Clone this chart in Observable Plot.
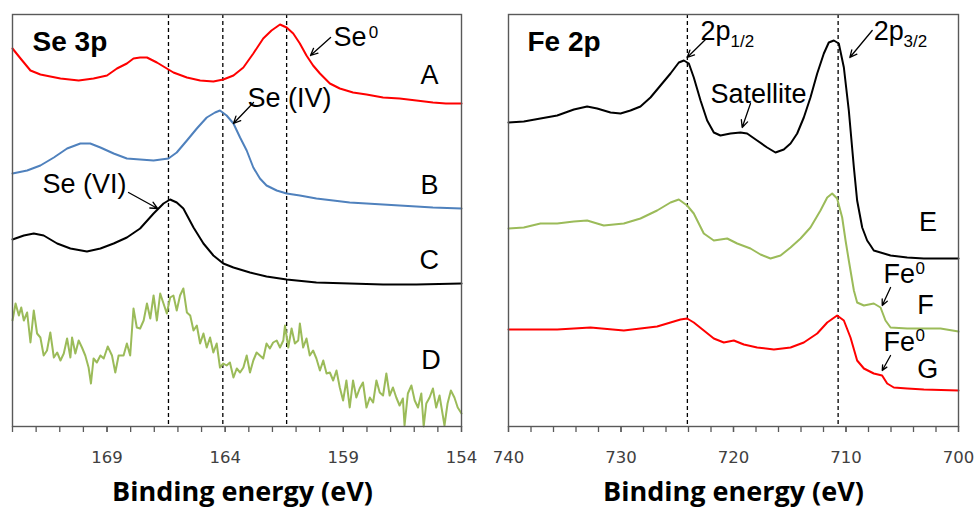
<!DOCTYPE html>
<html><head><meta charset="utf-8">
<script src="https://cdn.jsdelivr.net/npm/d3@7"></script>
<script src="https://cdn.jsdelivr.net/npm/@observablehq/plot@0.6"></script>
<style>
html,body{margin:0;padding:0;background:#fff;}
#wrap{display:flex;width:979px;height:512px;overflow:hidden;}
</style></head><body><div id="wrap"></div>
<script>
// ---- Se 3p spectra: [binding energy (eV), intensity (a.u.)] ----
const seA = [[173.00,378],[172.66,368],[172.24,356],[171.82,352],[171.40,350],[170.97,348],[170.20,346],[169.57,348],[169.00,351],[168.58,358],[168.16,363],[167.88,368],[167.60,369],[167.31,369],[166.89,364],[166.47,358],[166.19,354],[165.62,349],[165.06,346],[164.50,345],[164.08,347],[163.65,351],[163.23,359],[162.81,373],[162.39,388],[162.04,396],[161.68,402],[161.40,399],[161.12,393],[160.84,383],[160.56,371],[160.28,361],[159.99,353],[159.57,343],[159.15,338],[158.59,334],[158.02,332],[157.32,329],[156.62,328],[155.91,326],[155.21,324],[154.66,323],[154.00,323]];
const seB = [[173.00,253],[172.38,256],[171.82,261],[171.25,269],[170.69,278],[170.13,283],[169.71,283],[169.28,279],[168.72,273],[168.16,268],[167.60,267],[167.03,266],[166.40,268],[166.05,274],[165.62,286],[165.20,298],[164.78,309],[164.43,314],[164.22,316],[163.94,311],[163.65,303],[163.37,289],[163.09,276],[162.81,259],[162.53,248],[162.25,241],[161.82,236],[161.40,233],[160.84,231],[160.14,228],[159.43,226],[158.73,224],[158.02,223],[157.32,222],[156.62,221],[155.91,220],[155.21,219],[154.00,218]];
const seC = [[173.00,187],[172.52,191],[172.10,193],[171.68,191],[171.11,183],[170.55,178],[169.85,175],[169.28,178],[168.72,183],[168.16,189],[167.60,198],[167.03,213],[166.61,223],[166.33,227],[166.05,224],[165.77,218],[165.34,199],[164.92,183],[164.50,171],[164.08,163],[163.65,159],[162.95,154],[162.25,150],[161.40,147],[160.14,144],[158.73,143],[157.32,142],[155.91,142],[154.00,143]];
const seD = [[173.00,106],[172.87,123],[172.73,111],[172.63,119],[172.52,106],[172.38,114],[172.24,84],[172.10,116],[171.96,93],[171.82,89],[171.68,71],[171.54,76],[171.40,94],[171.25,69],[171.11,74],[170.97,66],[170.83,73],[170.69,88],[170.55,69],[170.48,89],[170.34,73],[170.20,86],[170.06,79],[169.92,71],[169.78,59],[169.68,43],[169.57,68],[169.43,64],[169.28,71],[169.14,68],[168.97,80],[168.79,71],[168.65,54],[168.51,71],[168.30,71],[168.16,83],[168.02,71],[167.88,118],[167.74,99],[167.60,98],[167.45,106],[167.31,123],[167.17,108],[167.03,131],[166.89,106],[166.75,133],[166.61,123],[166.47,113],[166.33,129],[166.19,131],[166.05,116],[165.91,131],[165.77,138],[165.62,114],[165.48,111],[165.34,96],[165.20,101],[165.06,83],[164.92,93],[164.78,79],[164.64,89],[164.50,74],[164.36,83],[164.22,59],[164.08,63],[163.94,61],[163.80,64],[163.65,49],[163.51,58],[163.37,54],[163.23,59],[163.09,71],[162.95,54],[162.81,66],[162.67,74],[162.53,71],[162.39,68],[162.25,83],[162.11,78],[161.97,84],[161.82,86],[161.68,79],[161.54,86],[161.47,101],[161.33,79],[161.19,98],[161.05,83],[160.91,86],[160.84,103],[160.70,79],[160.56,88],[160.42,71],[160.28,76],[160.14,68],[159.99,56],[159.85,66],[159.71,53],[159.57,54],[159.43,46],[159.29,56],[159.15,39],[159.01,26],[158.87,46],[158.73,19],[158.59,46],[158.45,29],[158.31,38],[158.17,44],[158.02,19],[157.88,29],[157.74,24],[157.60,46],[157.46,34],[157.32,31],[157.18,53],[157.04,31],[156.90,39],[156.76,29],[156.62,21],[156.48,28],[156.41,1],[156.27,33],[156.12,41],[155.98,26],[155.84,19],[155.70,33],[155.60,0],[155.49,23],[155.35,29],[155.21,38],[155.07,19],[154.93,31],[154.72,1],[154.59,23],[154.45,36],[154.30,29],[154.16,19],[154.00,13]];

// ---- Fe 2p spectra ----
const feE = [[740.00,304],[738.64,305],[737.16,308],[735.67,311],[734.19,317],[733.01,320],[732.12,318],[730.93,314],[730.04,313],[729.16,316],[728.27,320],[727.38,329],[726.49,341],[725.60,353],[724.86,364],[724.41,366],[723.97,363],[723.53,349],[722.93,326],[722.34,306],[721.75,294],[721.16,291],[720.27,293],[719.38,294],[718.79,293],[717.90,286],[717.01,279],[716.27,274],[715.53,277],[714.93,283],[714.34,293],[713.75,309],[713.16,329],[712.56,353],[711.97,373],[711.53,384],[711.08,386],[710.64,383],[710.19,359],[709.75,316],[709.30,259],[709.01,226],[708.56,199],[708.12,186],[707.82,181],[707.53,176],[706.04,171],[704.56,169],[703.08,168],[700.00,168]];
const feF = [[740.00,198],[738.64,199],[737.16,203],[735.67,203],[734.19,205],[733.01,206],[731.53,201],[729.75,203],[728.27,208],[726.79,216],[725.60,224],[724.86,227],[724.12,221],[723.53,213],[722.64,193],[721.75,186],[720.56,188],[719.67,183],[718.49,178],[717.60,172],[716.71,168],[715.82,171],[714.93,179],[714.04,188],[713.16,199],[712.27,216],[711.67,229],[711.23,233],[710.79,228],[710.34,209],[710.04,186],[709.75,166],[709.30,136],[709.01,124],[708.41,121],[707.53,123],[706.93,119],[706.49,106],[706.04,99],[704.56,98],[703.08,98],[701.60,98],[700.00,95]];
const feG = [[740.00,97],[738.64,97],[735.67,97],[732.71,99],[729.75,96],[728.27,98],[726.79,100],[725.60,104],[724.71,107],[724.12,108],[723.53,104],[722.64,96],[721.75,88],[720.86,84],[719.97,86],[719.08,82],[717.90,79],[716.41,77],[714.93,79],[713.75,84],[712.56,93],[711.67,104],[710.79,111],[710.19,106],[709.60,89],[709.01,66],[708.41,58],[707.53,53],[706.79,51],[706.34,43],[705.75,39],[704.56,38],[703.08,37],[700.00,36]];

// ---- axes ----
const seDomain = [173, 154];
const seMinorTicks = d3.range(154, 174, 1);
const seMajorTicks = [169, 164, 159, 154];
const feDomain = [740, 700];
const feMinorTicks = d3.range(700, 741, 2);
const feMajorTicks = [740, 730, 720, 710, 700];
const seDashes = [166.4, 164.1, 161.4];
const feDashes = [724.1, 710.7];
const xTitle = "Binding energy (eV)";

// ---- annotations ----
const seLabels = [
  {t: "Se 3p", x: 172.15, y: 376, size: 28, weight: "bold"},
  {t: "Se", x: 159.42, y: 381, size: 27},
  {t: "0", x: 157.93, y: 389, size: 17},
  {t: "A", x: 155.73, y: 343, size: 27},
  {t: "Se (IV)", x: 163.06, y: 320, size: 27},
  {t: "B", x: 155.73, y: 233, size: 27},
  {t: "Se (VI)", x: 171.73, y: 234, size: 27},
  {t: "C", x: 155.78, y: 158, size: 27},
  {t: "D", x: 155.70, y: 58, size: 27}
];
const feLabels = [
  {t: "Fe 2p", x: 738.31, y: 376, size: 28, weight: "bold"},
  {t: "2p", x: 722.93, y: 387, size: 27},
  {t: "1/2", x: 720.27, y: 380, size: 17},
  {t: "2p", x: 707.53, y: 387, size: 27},
  {t: "3/2", x: 704.89, y: 380, size: 17},
  {t: "Satellite", x: 722.04, y: 324, size: 27},
  {t: "E", x: 703.52, y: 196, size: 27},
  {t: "Fe", x: 706.67, y: 144, size: 27},
  {t: "0", x: 703.82, y: 153, size: 17},
  {t: "F", x: 703.67, y: 113, size: 27},
  {t: "Fe", x: 706.67, y: 76, size: 27},
  {t: "0", x: 703.82, y: 86, size: 17},
  {t: "G", x: 703.67, y: 49, size: 27}
];
const seArrows = [
  {x1: 159.54, y1: 389, x2: 160.39, y2: 371},
  {x1: 162.80, y1: 324, x2: 163.65, y2: 303},
  {x1: 168.09, y1: 234, x2: 166.86, y2: 218}
];
const feArrows = [
  {x1: 722.49, y1: 387, x2: 724.12, y2: 369},
  {x1: 707.67, y1: 396, x2: 709.66, y2: 369},
  {x1: 718.49, y1: 323, x2: 719.23, y2: 299},
  {x1: 706.04, y1: 139, x2: 706.78, y2: 121},
  {x1: 706.04, y1: 71, x2: 706.78, y2: 56}
];

const seSeries = [{d: seA, c: "#ff0000"}, {d: seB, c: "#4f81bd"}, {d: seC, c: "#000000"}, {d: seD, c: "#9bbb59"}];
const feSeries = [{d: feE, c: "#000000"}, {d: feF, c: "#9bbb59"}, {d: feG, c: "#ff0000"}];

function panel({width, marginLeft, marginRight, domain, minor, major, series, dashes, labels, arrows, titleDx}) {
  const labelMarks = d3.groups(labels, d => d.size + "|" + (d.weight || "normal")).map(([k, arr]) =>
    Plot.text(arr, {x: "x", y: "y", text: "t", textAnchor: "start", lineAnchor: "bottom",
      fontSize: arr[0].size, fontWeight: arr[0].weight || "normal",
      fontFamily: "Liberation Sans, Arial, sans-serif", fill: "#000"}));
  return Plot.plot({
    width, height: 512, marginTop: 14, marginBottom: 86, marginLeft, marginRight,
    x: {domain}, y: {domain: [0, 412], axis: null},
    style: {fontFamily: "Liberation Sans, Arial, sans-serif", background: "white", overflow: "visible"},
    marks: [
      Plot.ruleX(dashes, {stroke: "#000", strokeWidth: 1.3, strokeDasharray: "4,3"}),
      ...series.map(s => Plot.line(s.d, {x: d => d[0], y: d => d[1], stroke: s.c, strokeWidth: 2})),
      Plot.frame({stroke: "#595959", strokeWidth: 1.4}),
      Plot.axisX(minor, {tickSize: 6, tickFormat: () => "", stroke: "#595959", strokeWidth: 1.3, label: null}),
      Plot.axisX(major, {tickSize: 6, tickPadding: 19, tickFormat: d => String(d), fontSize: 16.5,
        fontFamily: "DejaVu Sans", fill: "#404040", stroke: "#595959", strokeWidth: 1.3, label: null}),
      Plot.text([xTitle], {text: d => d, frameAnchor: "bottom", dy: 74, dx: titleDx, lineAnchor: "bottom",
        fontSize: 27, fontWeight: "bold", fontFamily: "Open Sans", fill: "#000"}),
      Plot.arrow(arrows, {x1: "x1", y1: "y1", x2: "x2", y2: "y2", stroke: "#000", strokeWidth: 1.3, headLength: 9, headAngle: 50}),
      ...labelMarks
    ]
  });
}

const wrap = document.getElementById("wrap");
wrap.append(panel({width: 489, marginLeft: 12, marginRight: 28, domain: seDomain, minor: seMinorTicks,
  major: seMajorTicks, series: seSeries, dashes: seDashes, labels: seLabels, arrows: seArrows, titleDx: 5.5}));
wrap.append(panel({width: 490, marginLeft: 19, marginRight: 21, domain: feDomain, minor: feMinorTicks,
  major: feMajorTicks, series: feSeries, dashes: feDashes, labels: feLabels, arrows: feArrows, titleDx: 0}));
</script></body></html>
